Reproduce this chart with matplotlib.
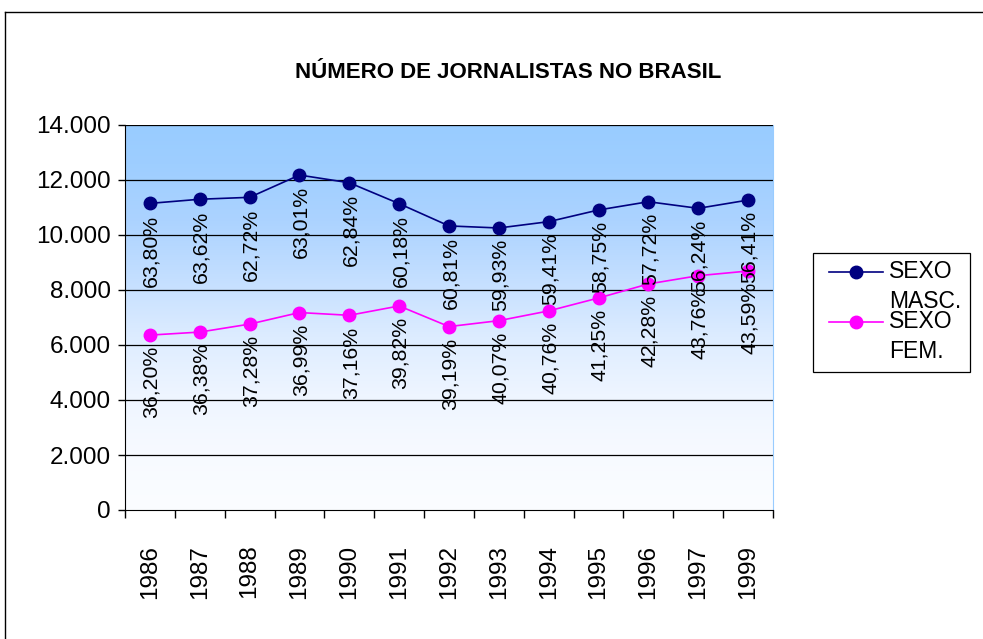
import numpy as np
import matplotlib
matplotlib.use("Agg")
import matplotlib.pyplot as plt
from matplotlib.colors import LinearSegmentedColormap
from matplotlib.lines import Line2D
from matplotlib.patches import Rectangle

years = ["1986", "1987", "1988", "1989", "1990", "1991", "1992", "1993",
         "1994", "1995", "1996", "1997", "1999"]
masc = [11150, 11300, 11370, 12180, 11900, 11140, 10330, 10255, 10485,
        10910, 11210, 10970, 11270]
fem = [6360, 6470, 6760, 7180, 7080, 7420, 6670, 6885, 7240, 7710, 8220,
       8520, 8690]
masc_pct = ["63,80%", "63,62%", "62,72%", "63,01%", "62,84%", "60,18%", "60,81%",
            "59,93%", "59,41%", "58,75%", "57,72%", "56,24%", "56,41%"]
fem_pct = ["36,20%", "36,38%", "37,28%", "36,99%", "37,16%", "39,82%", "39,19%",
           "40,07%", "40,76%", "41,25%", "42,28%", "43,76%", "43,59%"]
yticks = [0, 2000, 4000, 6000, 8000, 10000, 12000, 14000]
ytick_labels = ["0", "2.000", "4.000", "6.000", "8.000", "10.000", "12.000", "14.000"]
title = "NÚMERO DE JORNALISTAS NO BRASIL"
labels = [("SEXO", "MASC."), ("SEXO", "FEM.")]
colors = ['#000080', '#FF00FF']

plt.rcParams['font.family'] = ['Liberation Sans', 'DejaVu Sans']

W, H = 983, 639
fig = plt.figure(figsize=(W / 100, H / 100), dpi=100)
fig.patch.set_facecolor('white')


def fx(px):
    return px / W


def fy(py):
    return 1 - py / H


# outer frame (top and left visible)
fig.add_artist(Line2D([fx(5), 1.0], [fy(12), fy(12)], color='black', lw=1.0))
fig.add_artist(Line2D([fx(5), fx(5)], [0, fy(12)], color='black', lw=1.0))

L, R, T, B = 125, 773, 125, 510
ax = fig.add_axes([fx(L), fy(B), (R - L) / W, (B - T) / H])

x = np.arange(len(years))
ax.set_xlim(-0.5, len(years) - 0.5)
ax.set_ylim(0, 14000)

# gradient background
cmap = LinearSegmentedColormap.from_list('g', [
    (0.0, '#FBFDFF'), (0.15, '#F7FAFF'), (0.3, '#EEF5FF'), (0.45, '#DDECFF'),
    (0.6, '#C4DFFF'), (0.75, '#ACD3FF'), (0.9, '#9ECEFF'), (1.0, '#99CCFF')])
grad = np.linspace(0, 1, 256).reshape(-1, 1)
ax.imshow(grad, cmap=cmap, aspect='auto', origin='lower',
          extent=[-0.5, len(years) - 0.5, 0, 14000], zorder=0)

for yv in yticks[1:]:
    ax.axhline(yv, color='black', lw=0.9, zorder=1)

ax.plot(x, masc, color=colors[0], lw=1.2, marker='o', ms=9, zorder=3)
ax.plot(x, fem, color=colors[1], lw=1.2, marker='o', ms=9, zorder=3)

for xi, v, t in zip(x, masc, masc_pct):
    ax.annotate(t, (xi, v), xytext=(1, -8), textcoords='offset points',
                rotation=90, ha='center', va='top', fontsize=15.3, zorder=4)
for xi, v, t in zip(x, fem, fem_pct):
    ax.annotate(t, (xi, v), xytext=(1, -8), textcoords='offset points',
                rotation=90, ha='center', va='top', fontsize=15.3, zorder=4)

ax.set_yticks(yticks)
ax.set_yticklabels(ytick_labels, fontsize=17.5)
ax.tick_params(axis='y', direction='out', length=5, width=1, pad=5)

ax.set_xticks(x)
ax.set_xticklabels(years, rotation=90, fontsize=17.5)
ax.tick_params(axis='x', which='major', length=0, pad=25)
ax.set_xticks(np.arange(-0.5, len(years)), minor=True)
ax.tick_params(axis='x', which='minor', direction='out', length=6, width=1)

ax.spines['top'].set_visible(False)
ax.spines['right'].set_color('#99CCFF')
ax.spines['left'].set_color('black')
ax.spines['bottom'].set_color('black')

fig.text(fx(508), fy(72), title, ha='center', va='center',
         fontsize=16, fontweight='bold')

# legend (drawn manually to reproduce the two-line layout)
fig.add_artist(Rectangle((fx(813), fy(372)), (970 - 813) / W, (372 - 253) / H,
                         facecolor='white', edgecolor='black', lw=0.9))
for i, (c, (l1, l2)) in enumerate(zip(colors, labels)):
    yy = 272 + 50 * i
    fig.add_artist(Line2D([fx(829), fx(883)], [fy(yy), fy(yy)], color=c, lw=1.2))
    fig.add_artist(Line2D([fx(856)], [fy(yy)], color=c, marker='o', ms=9, lw=0))
    fig.text(fx(889), fy(yy), l1, ha='left', va='center', fontsize=16.5)
    fig.text(fx(889), fy(yy + 29), l2, ha='left', va='center', fontsize=16.5)

fig.savefig('out.png', dpi=100)
